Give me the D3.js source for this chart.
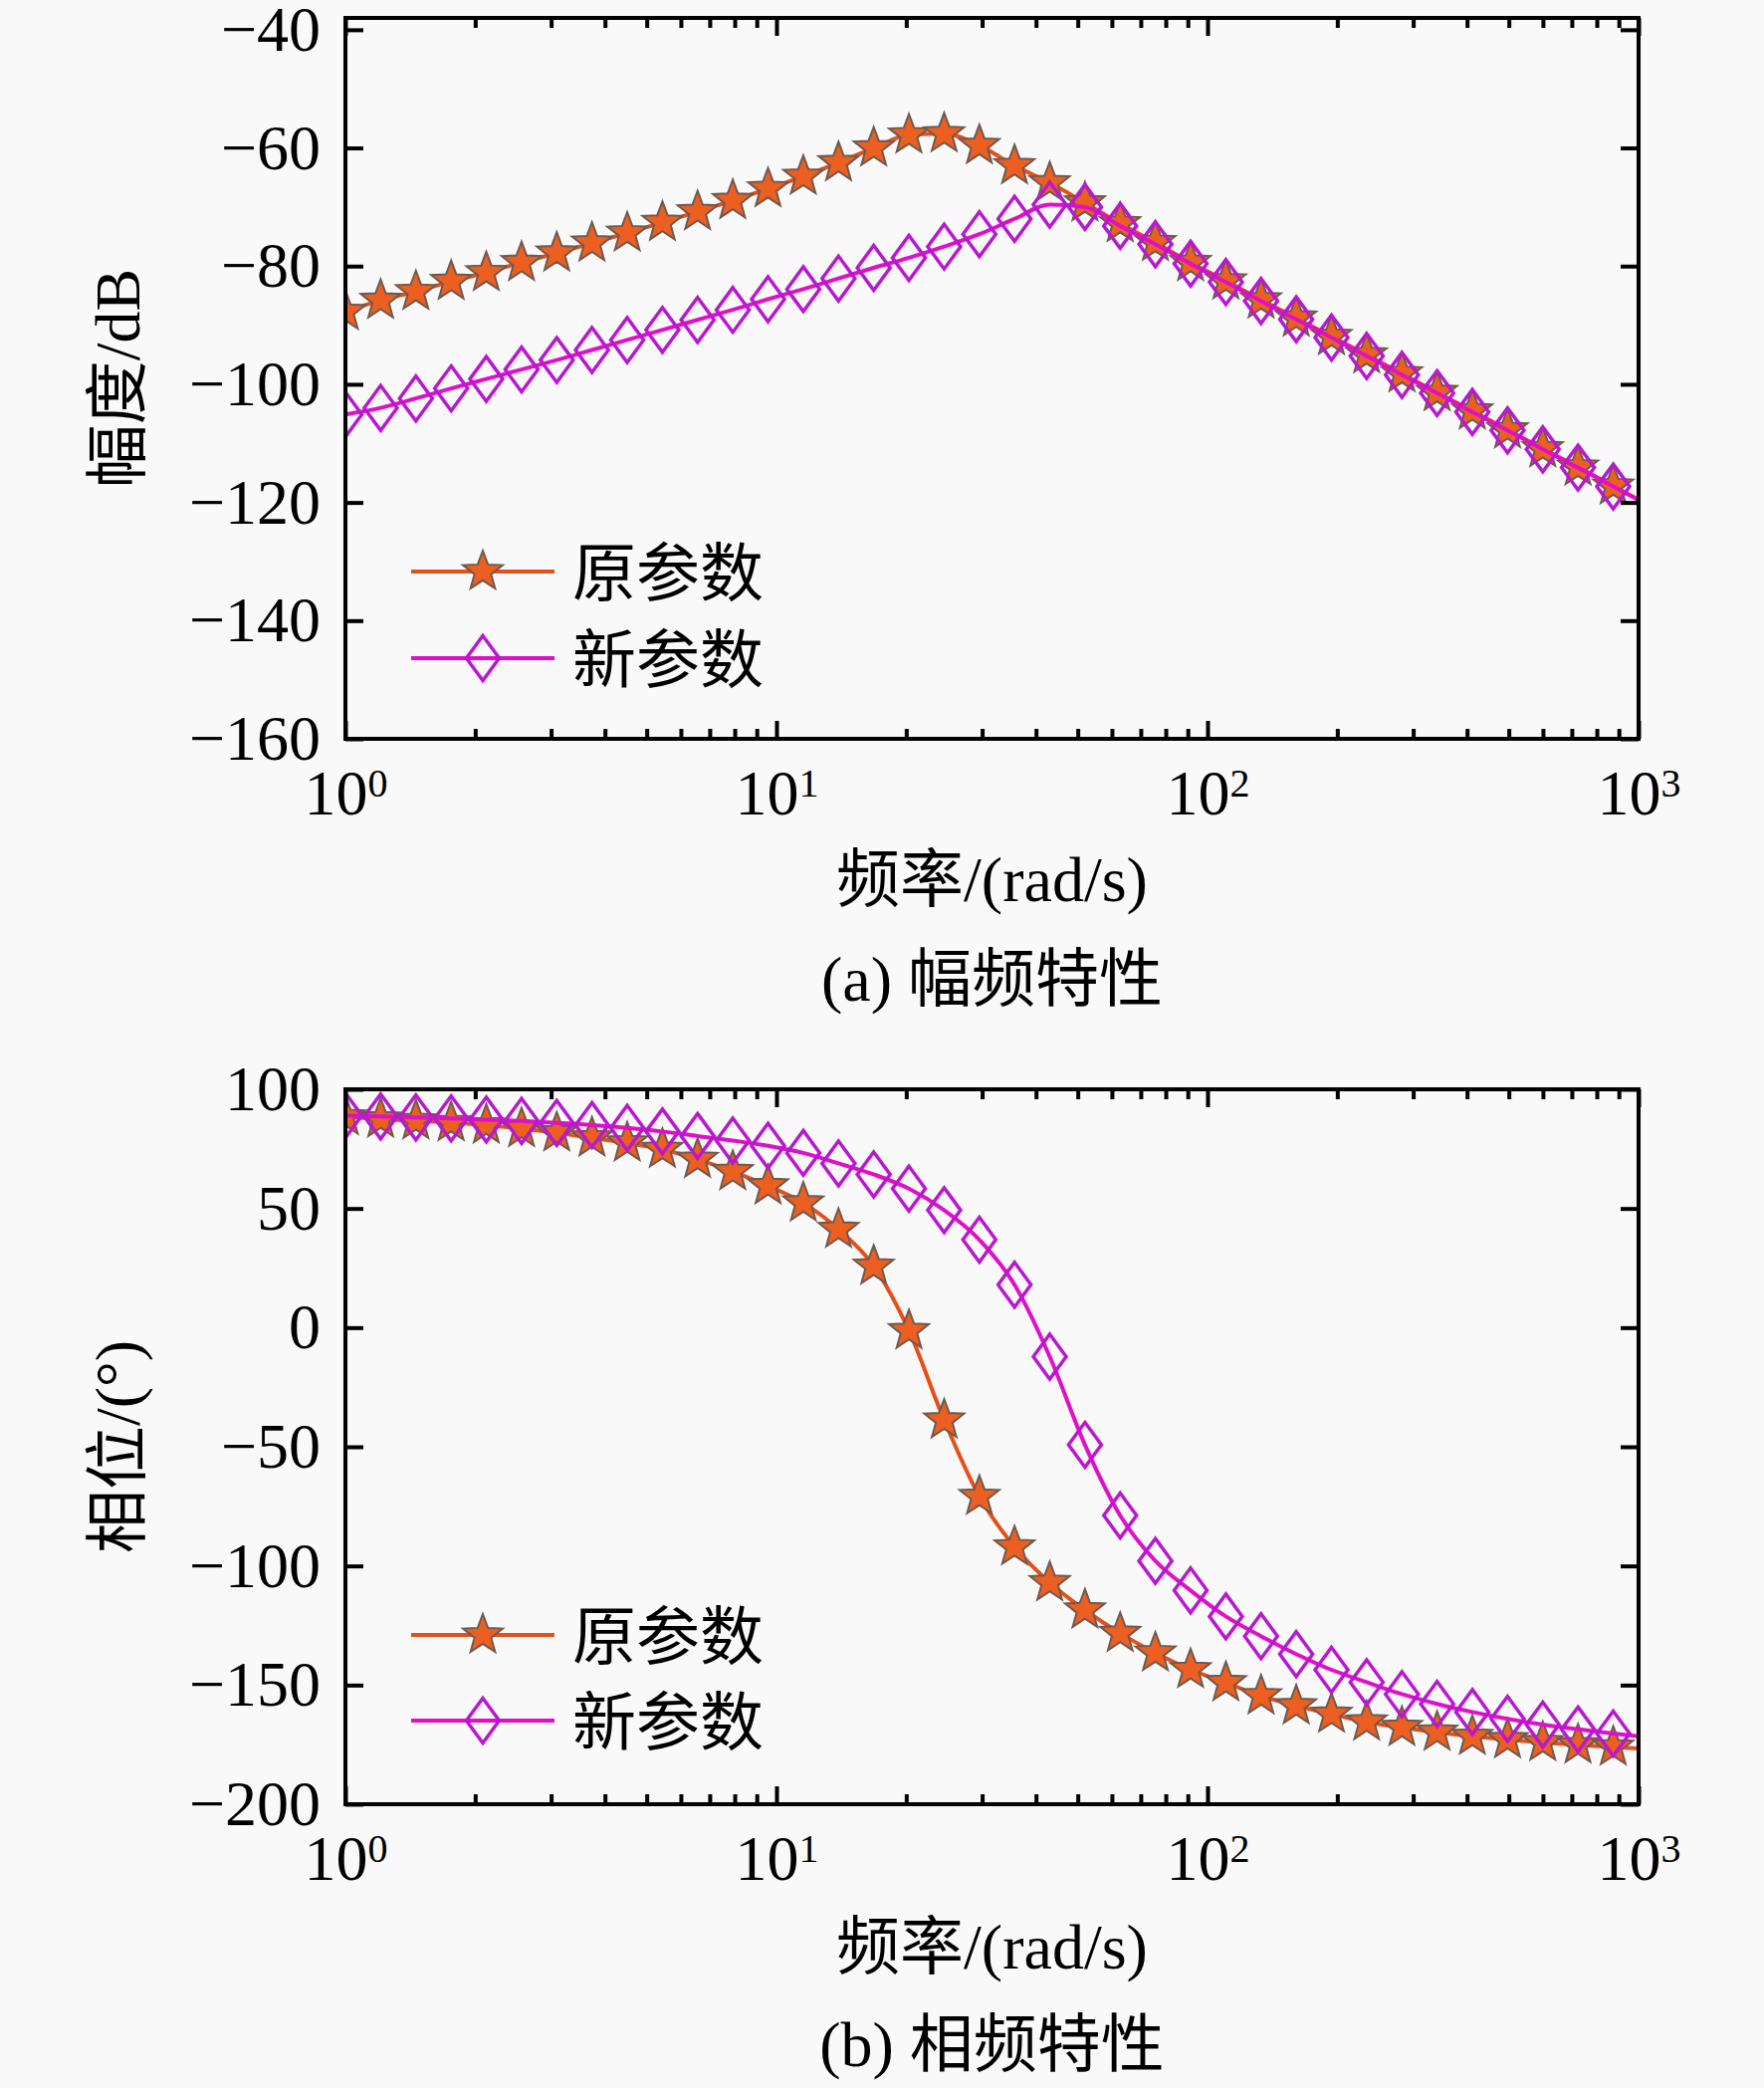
<!DOCTYPE html>
<html>
<head>
<meta charset="utf-8">
<script src="https://cdn.jsdelivr.net/npm/d3@7"></script>
<style>
  html, body { margin: 0; padding: 0; background: #f9f9f9; }
  svg { display: block; }
  text { font-family: "Liberation Serif", "Times New Roman", "Noto Sans CJK SC", serif; fill: #000; }
</style>
</head>
<body>
<svg id="chart" width="1772" height="2097"></svg>
<script>
// ---------------- data ----------------
const freq = [1.000, 1.207, 1.457, 1.759, 2.122, 2.562, 3.092, 3.732, 4.505, 5.437,
  6.561, 7.918, 9.559, 11.54, 13.93, 16.81, 20.29, 24.49, 29.56, 35.67,
  43.05, 51.96, 62.71, 75.69, 91.35, 110.3, 133.1, 160.6, 193.9, 234.0,
  282.5, 340.9, 411.5, 496.7, 599.5, 723.6, 873.4, 1000];
const markerCount = 37; // markers on the first 37 samples

const magOrig = [-87.7, -85.8, -84.3, -82.6, -81.1, -79.4, -77.8, -76.1, -74.4, -72.6,
  -70.8, -68.9, -66.9, -64.8, -62.5, -60.0, -57.8, -57.6, -59.6, -63.0,
  -65.9, -69.3, -72.8, -76.0, -79.4, -82.5, -85.7, -88.8, -91.9, -95.0,
  -98.2, -101.4, -104.5, -107.7, -110.9, -114.0, -117.2, -119.5];
const magNew = [-105.1, -104.0, -102.4, -100.7, -99.1, -97.5, -95.9, -94.2, -92.5, -90.8,
  -89.1, -87.4, -85.6, -83.9, -82.1, -80.3, -78.6, -76.7, -74.6, -72.0,
  -69.6, -70.0, -73.2, -76.3, -79.6, -82.7, -85.9, -89.0, -92.1, -95.2,
  -98.4, -101.5, -104.7, -107.8, -111.0, -114.1, -117.3, -119.6];
const phaseOrig = [88.5, 87.5, 86.8, 86.0, 85.0, 83.5, 81.7, 79.6, 77.5, 74.8,
  70.6, 65.5, 59.5, 52.3, 41.2, 25.8, -1.3, -38.8, -70.8, -92.0,
  -107.0, -118.5, -128.3, -136.5, -143.5, -149.0, -154.5, -158.7, -162.2, -165.5,
  -167.8, -169.8, -171.5, -172.9, -174.1, -175.1, -176.0, -176.6];
const phaseNew = [89.0, 88.6, 88.2, 87.8, 87.3, 86.7, 85.9, 85.0, 83.8, 82.3,
  80.4, 78.5, 76.3, 73.3, 68.9, 64.3, 58.3, 49.3, 36.9, 18.0,
  -12.2, -49.2, -78.8, -97.9, -110.3, -121.2, -129.5, -137.0, -143.6, -148.8,
  -153.8, -157.9, -161.3, -164.2, -166.6, -168.6, -170.3, -171.5];

const seriesNames = ["原参数", "新参数"];
const xTickValues = [1, 10, 100, 1000];
const xTickExp = ["0", "1", "2", "3"];
const magTicks = [-160, -140, -120, -100, -80, -60, -40];
const phaseTicks = [-200, -150, -100, -50, 0, 50, 100];

// ---------------- styles ----------------
const colOrigLine = "#e4501c", colOrigFill = "#ec5f20", colOrigEdge = "#6e5a50";
const colNewLine = "#e010c8", colNewEdge = "#b818d0";
const FS = 64;

const svg = d3.select("#chart");

const minorVals = [];
[1, 10, 100].forEach(d => { for (let m = 2; m <= 9; m++) minorVals.push(d * m); });

function starPath(R, r) {
  const pts = [];
  for (let i = 0; i < 10; i++) {
    const a = -Math.PI / 2 + i * Math.PI / 5;
    const rad = i % 2 === 0 ? R : r;
    pts.push([rad * Math.cos(a), rad * Math.sin(a)]);
  }
  return "M" + pts.map(p => p[0].toFixed(2) + "," + p[1].toFixed(2)).join("L") + "Z";
}
const STAR = starPath(21, 8.8);
const DIAMOND = "M0,-22.5L16.5,0L0,22.5L-16.5,0Z";

function drawPanel(cfg) {
  const { top, bottom, yDomain, yTicks, seriesA, seriesB, idx, yLabel, xLabelY, captionY, caption, legendY } = cfg;
  const left = 347, right = 1646;
  const x = d3.scaleLog().domain([1, 1000]).range([left, right]);
  const y = d3.scaleLinear().domain(yDomain).range([bottom, top]);
  const g = svg.append("g");

  const clipId = "clip" + idx;
  svg.append("clipPath").attr("id", clipId)
    .append("rect").attr("x", left).attr("y", top).attr("width", right - left).attr("height", bottom - top);

  const plot = g.append("g").attr("clip-path", `url(#${clipId})`);
  const line = d3.line().x((d, i) => x(freq[i])).y(d => y(d)).curve(d3.curveMonotoneX);

  // series A (orig)
  plot.append("path").datum(seriesA).attr("d", line)
    .attr("fill", "none").attr("stroke", colOrigLine).attr("stroke-width", 4);
  plot.append("g").selectAll("path").data(seriesA.slice(0, markerCount)).join("path")
    .attr("d", STAR)
    .attr("transform", (d, i) => `translate(${x(freq[i])},${y(d)})`)
    .attr("fill", colOrigFill).attr("stroke", colOrigEdge).attr("stroke-width", 2);
  // series B (new)
  plot.append("path").datum(seriesB).attr("d", line)
    .attr("fill", "none").attr("stroke", colNewLine).attr("stroke-width", 4);
  plot.append("g").selectAll("path").data(seriesB.slice(0, markerCount)).join("path")
    .attr("d", DIAMOND)
    .attr("transform", (d, i) => `translate(${x(freq[i])},${y(d)})`)
    .attr("fill", "none").attr("stroke", colNewEdge).attr("stroke-width", 3.5);

  // axes
  const styleAxis = sel => {
    sel.selectAll(".domain").remove();
    sel.selectAll(".tick line").attr("stroke", "#000").attr("stroke-width", 4);
    sel.selectAll("text").attr("font-size", FS).attr("fill", "#000")
      .style("font-family", '"Liberation Serif", "Times New Roman", serif');
  };
  g.append("g").attr("transform", `translate(${left},0)`)
    .call(d3.axisLeft(y).tickValues(yTicks).tickSize(-18).tickPadding(25).tickFormat(d3.format("d")))
    .call(styleAxis);
  g.append("g").attr("transform", `translate(${right},0)`)
    .call(d3.axisRight(y).tickValues(yTicks).tickSize(-18).tickFormat(""))
    .call(styleAxis);
  const bAx = g.append("g").attr("transform", `translate(0,${bottom})`)
    .call(d3.axisBottom(x).tickValues(xTickValues).tickSize(-18).tickPadding(31).tickFormat(() => "10"))
    .call(styleAxis);
  bAx.selectAll(".tick text").each(function (d, i) {
    d3.select(this).append("tspan").attr("font-size", 40).attr("dy", "-0.45em").text(xTickExp[i]);
  });
  g.append("g").attr("transform", `translate(0,${bottom})`)
    .call(d3.axisBottom(x).tickValues(minorVals).tickSize(-10).tickFormat(""))
    .call(styleAxis);
  g.append("g").attr("transform", `translate(0,${top})`)
    .call(d3.axisTop(x).tickValues(xTickValues).tickSize(-18).tickFormat(""))
    .call(styleAxis);
  g.append("g").attr("transform", `translate(0,${top})`)
    .call(d3.axisTop(x).tickValues(minorVals).tickSize(-10).tickFormat(""))
    .call(styleAxis);

  // frame
  g.append("rect").attr("x", left).attr("y", top).attr("width", right - left).attr("height", bottom - top)
    .attr("fill", "none").attr("stroke", "#000").attr("stroke-width", 4);

  // labels
  g.append("text").attr("transform", `translate(140,${(top + bottom) / 2}) rotate(-90)`)
    .attr("text-anchor", "middle").attr("font-size", FS).text(yLabel);
  g.append("text").attr("x", (left + right) / 2).attr("y", xLabelY)
    .attr("text-anchor", "middle").attr("font-size", FS).text("频率/(rad/s)");
  g.append("text").attr("x", (left + right) / 2).attr("y", captionY)
    .attr("text-anchor", "middle").attr("font-size", FS).text(caption);

  // legend
  const lg = g.append("g");
  const rows = [
    { name: seriesNames[0], y: legendY[0], line: colOrigLine, shape: STAR, fill: colOrigFill, edge: colOrigEdge, sw: 2 },
    { name: seriesNames[1], y: legendY[1], line: colNewLine, shape: DIAMOND, fill: "none", edge: colNewEdge, sw: 3.5 }
  ];
  rows.forEach(r => {
    lg.append("line").attr("x1", 413).attr("x2", 557).attr("y1", r.y).attr("y2", r.y)
      .attr("stroke", r.line).attr("stroke-width", 4);
    lg.append("path").attr("d", r.shape).attr("transform", `translate(485,${r.y})`)
      .attr("fill", r.fill).attr("stroke", r.edge).attr("stroke-width", r.sw);
    lg.append("text").attr("x", 575).attr("y", r.y + 24).attr("font-size", FS).text(r.name);
  });
}

drawPanel({
  idx: 1, top: 18, bottom: 742, yDomain: [-160, -38], yTicks: magTicks,
  seriesA: magOrig, seriesB: magNew, yLabel: "幅度/dB",
  xLabelY: 905, captionY: 1005, caption: "(a) 幅频特性", legendY: [574, 661]
});
drawPanel({
  idx: 2, top: 1094, bottom: 1812, yDomain: [-200, 100], yTicks: phaseTicks,
  seriesA: phaseOrig, seriesB: phaseNew, yLabel: "相位/(°)",
  xLabelY: 1977, captionY: 2075, caption: "(b) 相频特性", legendY: [1642, 1728]
});
</script>
</body>
</html>
